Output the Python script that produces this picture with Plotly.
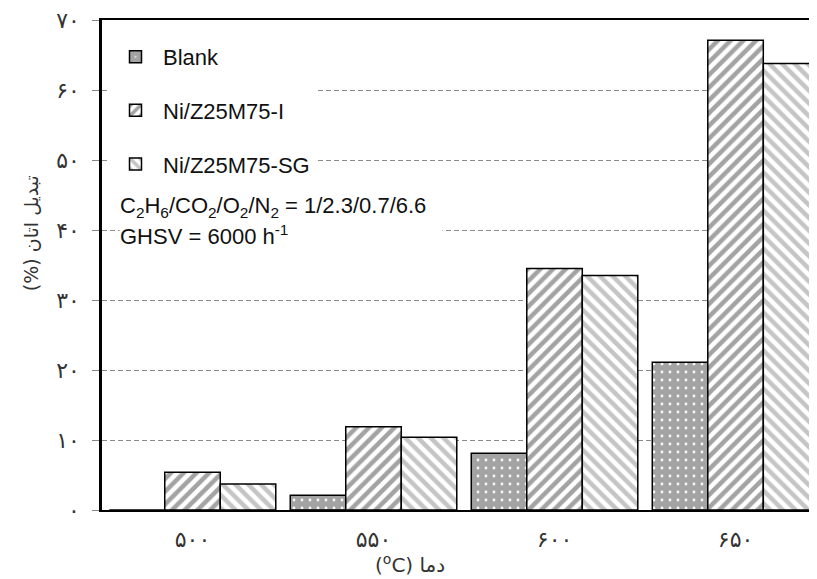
import plotly.graph_objects as go

# ---- data ----
temps = ["۵۰۰", "۵۵۰", "۶۰۰", "۶۵۰"]          # 500, 550, 600, 650 °C
blank = [0.0, 2.1, 8.1, 21.1]
ni_i = [5.4, 11.9, 34.5, 67.1]
ni_sg = [3.7, 10.4, 33.5, 63.8]
series_names = ["Blank", "Ni/Z25M75-I", "Ni/Z25M75-SG"]
y_tickvals = [0, 10, 20, 30, 40, 50, 60, 70]
y_ticktext = ["۰", "۱۰", "۲۰", "۳۰", "۴۰", "۵۰", "۶۰", "۷۰"]

LATIN = "Liberation Sans, Arial, sans-serif"
PERSIAN = "DejaVu Sans, Noto Sans, sans-serif"

# page body has an 8px margin: figure is sized to end exactly at the window edge
W, H = 809, 571
PL, PT, PB = 94, 10, 69           # plot area: x 94..809, y 10..502 (figure px)


def px(xw):   # window x pixel -> paper x
    return (xw - 8 - PL) / (W - PL)


def py(yw):   # window y pixel -> paper y
    return (H - PB - (yw - 8)) / (H - PB - PT)


fig = go.Figure()
fig.add_trace(go.Bar(
    x=temps, y=blank, name=series_names[0], legendgroup="a",
    marker=dict(color="white", line=dict(color="black", width=1.5),
                pattern=dict(shape=".", fgcolor="#484848", bgcolor="white",
                             size=8, solidity=0.85)),
))
fig.add_trace(go.Bar(
    x=temps, y=ni_i, name=series_names[1], legendgroup="b",
    marker=dict(color="white", line=dict(color="black", width=1.5),
                pattern=dict(shape="/", fgcolor="#484848", bgcolor="white",
                             size=9, solidity=0.5)),
))
fig.add_trace(go.Bar(
    x=temps, y=ni_sg, name=series_names[2], legendgroup="c",
    marker=dict(color="white", line=dict(color="black", width=1.5),
                pattern=dict(shape="\\", fgcolor="#8c8c8c", bgcolor="white",
                             size=9, solidity=0.5)),
))

fig.update_layout(
    width=W, height=H,
    margin=dict(l=PL, r=0, t=PT, b=PB),
    paper_bgcolor="white", plot_bgcolor="white",
    barmode="group", bargap=0.08, bargroupgap=0,
    hovermode=False,
    showlegend=True,
    legend=dict(
        x=px(108), y=py(34), xanchor="left", yanchor="top",
        bgcolor="white", borderwidth=0,
        font=dict(family=LATIN, size=22, color="#111"),
        tracegroupgap=22, itemwidth=45, traceorder="grouped",
    ),
    xaxis=dict(
        type="category", range=[-0.5, 3.45],
        showline=True, linecolor="black", linewidth=2, mirror=True,
        ticks="", showgrid=False, zeroline=False,
        tickfont=dict(family=PERSIAN, size=22, color="#333"),
        ticklabelstandoff=9,
    ),
    yaxis=dict(
        range=[0, 70],
        tickvals=y_tickvals, ticktext=y_ticktext,
        showline=True, linecolor="black", linewidth=2.5, mirror=False,
        ticks="outside", ticklen=7, tickcolor="#888", tickwidth=1.3,
        showgrid=True, gridcolor="#8a8a8a", gridwidth=1.3, griddash="5px,3px",
        zeroline=False, ticklabeloverflow="allow",
        tickfont=dict(family=PERSIAN, size=22, color="#333"),
        ticklabelstandoff=8,
    ),
    annotations=[
        dict(text="C<sub>2</sub>H<sub>6</sub>/CO<sub>2</sub>/O<sub>2</sub>/N<sub>2</sub> = 1/2.3/0.7/6.6",
             xref="paper", yref="paper", x=px(118), y=py(206),
             xanchor="left", yanchor="middle", showarrow=False, align="left",
             font=dict(family=LATIN, size=22, color="#111")),
        dict(text="GHSV = 6000 h<sup>-1</sup>",
             xref="paper", yref="paper", x=px(119), y=py(234),
             xanchor="left", yanchor="middle", showarrow=False, align="left",
             width=322, bgcolor="white", borderpad=0,
             font=dict(family=LATIN, size=22, color="#111")),
        dict(text="(<sup>o</sup>C) دما",
             xref="paper", yref="paper", x=px(410), y=py(564),
             xanchor="center", yanchor="middle", showarrow=False,
             font=dict(family=PERSIAN, size=20, color="#333")),
        dict(text="(%) تبدیل اتان",
             xref="paper", yref="paper", x=px(31), y=py(232),
             xanchor="center", yanchor="middle", showarrow=False, textangle=-90,
             font=dict(family=PERSIAN, size=19, color="#333")),
    ],
)

fig.write_html("out.html")
